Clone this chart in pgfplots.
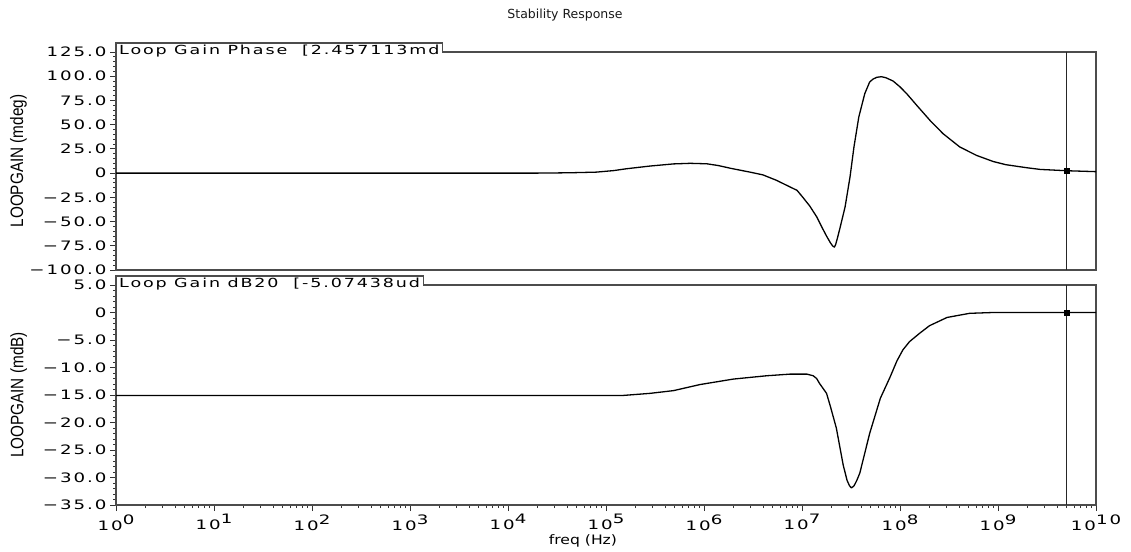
\documentclass[border=0pt]{standalone}
\usepackage{fontspec}
\usepackage{pgfplots}
\usepackage{pgfplotstable}
\pgfplotsset{compat=1.18}
\setmainfont{DejaVu Sans}
\newfontfamily\tickfont{DejaVu Sans}[FakeStretch=1.4,LetterSpace=15]
\newfontfamily\labfont{DejaVu Sans}[FakeStretch=1.2]
\newfontfamily\titlefont{DejaVu Sans}
\newfontfamily\ylabfont{Liberation Sans}[FakeStretch=0.85]
\newcommand\tp[1]{10\raisebox{6bp}{#1}}
\newcommand\mn{\char"2212\relax}

\pgfplotstableread{
f v
1 0
2.0e4 0
2.69e4 0.1
4.5e4 0.4
7.94e4 1.0
1.2e5 2.6
1.62e5 4.5
2.82e5 7.3
4.9e5 9.5
7.24e5 10.1
1.07e6 9.6
1.4e6 7.8
1.86e6 5.0
2.95e6 1.0
3.98e6 -1.8
5.5e6 -7.5
7.59e6 -14.4
8.9e6 -17.8
1.02e7 -25
1.2e7 -34
1.41e7 -45
1.58e7 -55
1.78e7 -65
1.95e7 -72
2.06e7 -75.3
2.14e7 -76.4
2.2e7 -74
2.3e7 -67
2.45e7 -56
2.75e7 -35
3.09e7 -4
3.39e7 27
3.80e7 58
4.37e7 82
4.90e7 94
5.3e7 97
5.8e7 98.9
6.46e7 99.5
7.2e7 98.4
8.51e7 95
1.0e8 89
1.17e8 82
1.48e8 70
2.04e8 54
2.75e8 40.7
4.07e8 27
6.03e8 18.3
8.91e8 12
1.20e9 8.7
1.95e9 5.6
2.69e9 3.8
5.0e9 2.46
1e10 1.5
}\phasetab

\pgfplotstableread{
f v
1 -15.1
1.45e5 -15.1
2.82e5 -14.7
4.9e5 -14.2
9.1e5 -13.1
2.0e6 -12.1
4.37e6 -11.5
7.6e6 -11.2
1.12e7 -11.2
1.3e7 -11.5
1.41e7 -12.0
1.51e7 -12.9
1.78e7 -14.7
1.95e7 -17.1
2.24e7 -21.0
2.63e7 -27.7
2.88e7 -30.5
3.05e7 -31.5
3.2e7 -31.9
3.4e7 -31.5
3.63e7 -30.5
3.89e7 -29.2
4.9e7 -22.0
6.3e7 -15.6
7.94e7 -11.7
9.3e7 -8.8
1.07e8 -6.8
1.25e8 -5.3
1.58e8 -3.8
2.0e8 -2.4
3.02e8 -0.9
5.13e8 -0.15
8.91e8 0
1e10 0
}\gaintab

\begin{document}
\begin{tikzpicture}
\path[use as bounding box] (0bp,0bp) rectangle (1131bp,552bp);
\node[font=\titlefont\fontsize{12.5bp}{14bp}\selectfont, text=black!90] at (565bp,537bp) {Stability Response};

\begin{axis}[name=topax, at={(116bp,282bp)}, anchor=south west,
  width=980bp, height=218bp, scale only axis,
  xmode=log, xmin=1, xmax=1e10,
  axis line style={black!70, line width=1.1bp},
  tick style={black!80, line width=0.8bp},
  tick align=outside,
  major tick length=6bp, minor tick length=3bp,
  xtick pos=left, ytick pos=left,
  yticklabel style={font=\tickfont\fontsize{13bp}{14bp}\selectfont},
  ylabel style={font=\ylabfont\fontsize{18bp}{19bp}\selectfont, at={(axis description cs:-0.0994,0.5)}, anchor=center},
  minor y tick num=4,
  ymin=-100, ymax=125,
  ytick={-100,-75,-50,-25,0,25,50,75,100,125},
  yticklabels={\mn100.0,\mn75.0,\mn50.0,\mn25.0,0,25.0,50.0,75.0,100.0,125.0},
  xmajorticks=false, xminorticks=false,
  ylabel={LOOPGAIN (mdeg)},
]
\addplot[black, line width=1.3bp, line join=round] table[x=f,y=v] {\phasetab};
\addplot[black!85, line width=1.6bp] coordinates {(5e9,-100) (5e9,125)};
\addplot[only marks, mark=square*, mark size=2.4, black] coordinates {(5e9,2.46)};
\end{axis}

\begin{axis}[name=botax, at={(116bp,47bp)}, anchor=south west,
  width=980bp, height=220bp, scale only axis,
  xmode=log, xmin=1, xmax=1e10,
  axis line style={black!70, line width=1.1bp},
  tick style={black!80, line width=0.8bp},
  tick align=outside,
  major tick length=6bp, minor tick length=3bp,
  xtick pos=left, ytick pos=left,
  yticklabel style={font=\tickfont\fontsize{13bp}{14bp}\selectfont},
  xticklabel style={font=\tickfont\fontsize{13bp}{14bp}\selectfont},
  ylabel style={font=\ylabfont\fontsize{18bp}{19bp}\selectfont, at={(axis description cs:-0.0994,0.5)}, anchor=center},
  minor y tick num=4,
  ymin=-35, ymax=5,
  ytick={-35,-30,-25,-20,-15,-10,-5,0,5},
  yticklabels={\mn35.0,\mn30.0,\mn25.0,\mn20.0,\mn15.0,\mn10.0,\mn5.0,0,5.0},
  xtick={1,10,100,1000,1e4,1e5,1e6,1e7,1e8,1e9,1e10},
  xticklabels={\tp{0},\tp{1},\tp{2},\tp{3},\tp{4},\tp{5},\tp{6},\tp{7},\tp{8},\tp{9},\tp{10}},
  ylabel={LOOPGAIN (mdB)},
  xlabel={freq (Hz)},
  xlabel style={font=\labfont\fontsize{13bp}{14bp}\selectfont, at={(axis description cs:0.4765,-0.164)}, anchor=center},
]
\addplot[black, line width=1.3bp, line join=round] table[x=f,y=v] {\gaintab};
\addplot[black!85, line width=1.6bp] coordinates {(5e9,-35) (5e9,5)};
\addplot[only marks, mark=square*, mark size=2.4, black] coordinates {(5e9,-0.005)};
\end{axis}

\node[fill=white, inner xsep=3bp, inner ysep=1.5bp, anchor=north west,
  font=\tickfont\fontsize{12.5bp}{13bp}\selectfont] (tabA) at ([yshift=9bp]topax.north west) {Loop Gain Phase\ \ [2.457113md};
\draw[black!70, line width=1.1bp] (tabA.south west) |- (tabA.north east) -- (tabA.north east |- topax.north west);
\node[fill=white, inner xsep=3bp, inner ysep=1.5bp, anchor=north west,
  font=\tickfont\fontsize{12.5bp}{13bp}\selectfont] (tabB) at ([yshift=9bp]botax.north west) {Loop Gain dB20\ \ [-5.07438ud};
\draw[black!70, line width=1.1bp] (tabB.south west) |- (tabB.north east) -- (tabB.north east |- botax.north west);
\end{tikzpicture}
\end{document}
